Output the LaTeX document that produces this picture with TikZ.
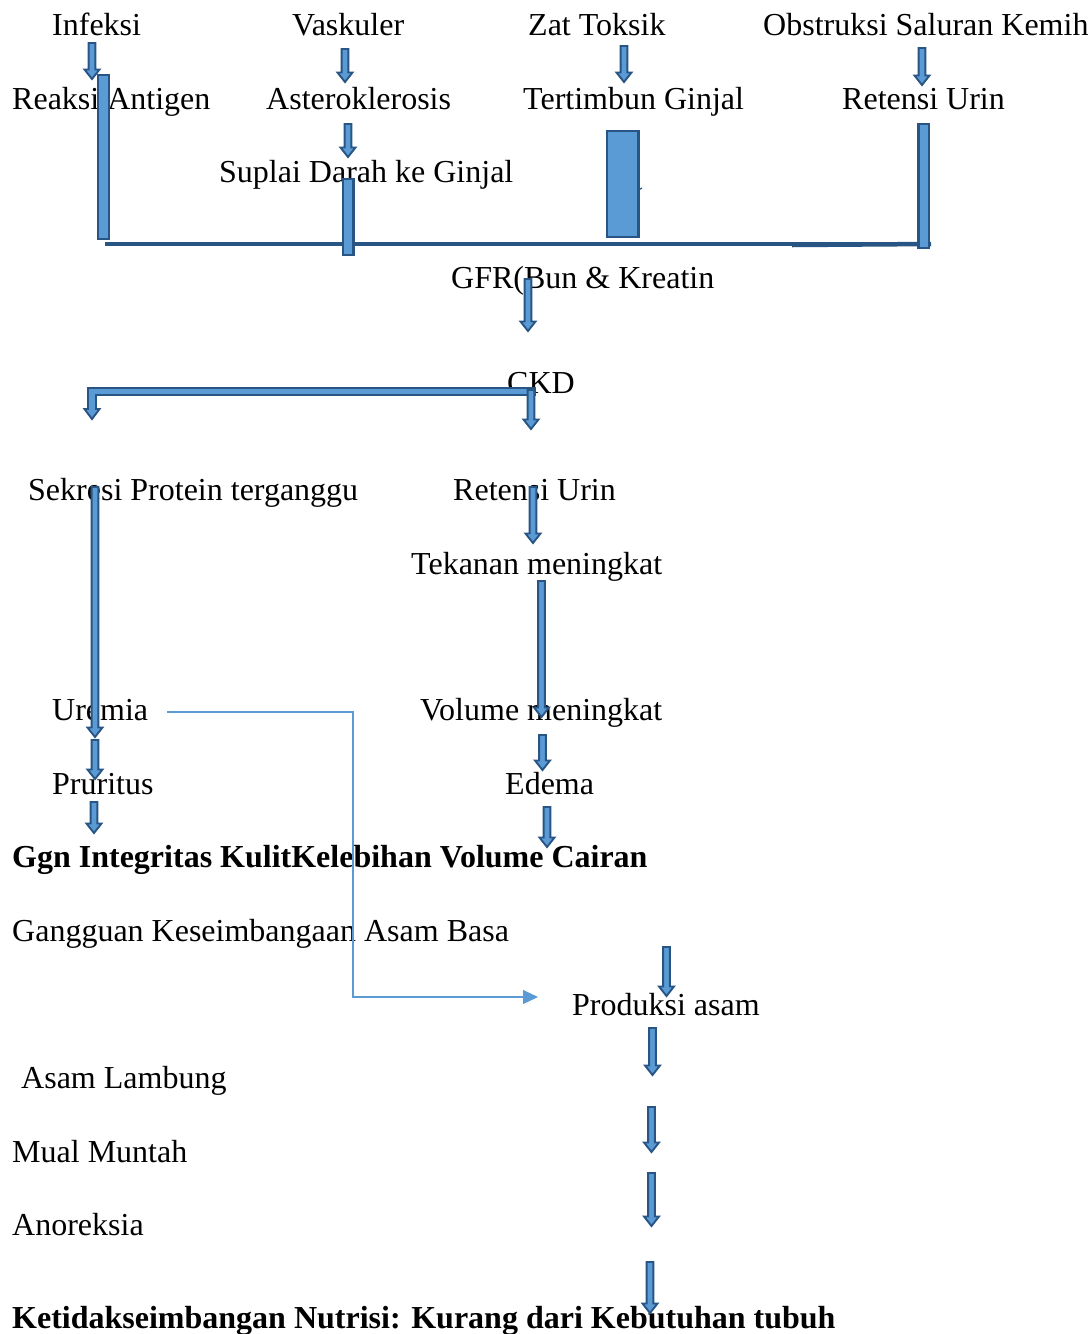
\documentclass[tikz,border=0pt]{standalone}
\usepackage{fontspec}
\setmainfont{Liberation Serif}
\usetikzlibrary{calc,arrows.meta}
\definecolor{afill}{HTML}{5B9BD5}
\definecolor{aline}{HTML}{285584}
\definecolor{hbar}{HTML}{285584}
\tikzset{
  lbl/.style={anchor=base west,inner sep=0pt,font=\fontsize{32}{36}\selectfont},
  blbl/.style={lbl,font=\fontsize{32}{36}\selectfont\bfseries},
  barrow/.style={fill=afill,draw=aline,line width=1.9pt,line join=miter},
  barbox/.style={fill=afill,draw=aline,line width=2.2pt},
  thinlink/.style={draw=afill,line width=1.1pt,-{Triangle[length=15pt,width=14pt]}},
}
\newcommand\blockarrow[2]{%
  \filldraw[barrow] let \p1=(#1), \p2=(#2) in
   (\x1-3.4pt,\y1) -- (\x1+3.4pt,\y1) -- (\x1+3.4pt,\y2+9.5pt) -- (\x1+7.5pt,\y2+9.5pt)
   -- (\x1,\y2) -- (\x1-7.5pt,\y2+9.5pt) -- (\x1-3.4pt,\y2+9.5pt) -- cycle;}
\begin{document}
\begin{tikzpicture}[x=1pt,y=-1pt]
\useasboundingbox[fill=white] (0,0) rectangle (1092,1334);
% texts
\node[lbl] (infeksi) at (52,35) {Infeksi};
\node[lbl] (vaskuler) at (292,35) {Vaskuler};
\node[lbl] (zat) at (528,35) {Zat Toksik};
\node[lbl] (obstruksi) at (763,35) {Obstruksi Saluran Kemih};
\node[lbl] (reaksi) at (12,109) {Reaksi Antigen};
\node[lbl] (astero) at (266,109) {Asteroklerosis};
\node[lbl] (tertimbun) at (523,109) {Tertimbun Ginjal};
\node[lbl] (retensiA) at (842,109) {Retensi Urin};
\node[lbl] (suplai) at (219,182) {Suplai Darah ke Ginjal};
\node[lbl] (gfr) at (451,288) {GFR(Bun \& Kreatin};
\node[lbl] (ckd) at (507,393) {CKD};
\node[lbl] (sekresi) at (28,500) {Sekresi Protein terganggu};
\node[lbl] (retensiB) at (453,500) {Retensi Urin};
\node[lbl] (tekanan) at (411,574) {Tekanan meningkat};
\node[lbl] (uremia) at (52,720) {Uremia};
\node[lbl] (volume) at (420,720) {Volume meningkat};
\node[lbl] (pruritus) at (52,794) {Pruritus};
\node[lbl] (edema) at (505,794) {Edema};
\node[blbl] (ggn) at (12,867) {Ggn Integritas KulitKelebihan Volume Cairan};
\node[lbl] (gangguan) at (12,941) {Gangguan Keseimbangaan Asam Basa};
\node[lbl] (produksi) at (572,1015) {Produksi asam};
\node[lbl] (lambung) at (21,1088) {Asam Lambung};
\node[lbl] (mual) at (12,1162) {Mual Muntah};
\node[lbl] (anoreksia) at (12,1235) {Anoreksia};
\node[blbl] (ketidak) at (12,1328) {Ketidakseimbangan Nutrisi: Kurang dari Kebutuhan tubuh};
% arrow coordinates
\coordinate (a1s) at (92,43);   \coordinate (a1e) at (92,79);
\coordinate (a2s) at (345,49);  \coordinate (a2e) at (345,82);
\coordinate (a3s) at (348,124); \coordinate (a3e) at (348,157);
\coordinate (a4s) at (624,46);  \coordinate (a4e) at (624,82);
\coordinate (a5s) at (922,48);  \coordinate (a5e) at (922,85);
\coordinate (a6s) at (528,279); \coordinate (a6e) at (528,331);
\coordinate (a7s) at (531,390); \coordinate (a7e) at (531,429);
\coordinate (a8s) at (95,487);  \coordinate (a8e) at (95,737);
\coordinate (a9s) at (95,740);  \coordinate (a9e) at (95,779);
\coordinate (a10s) at (94,802); \coordinate (a10e) at (94,833);
\coordinate (a11s) at (533,487); \coordinate (a11e) at (533,543);
\coordinate (a12s) at (541.5,581); \coordinate (a12e) at (541.5,717);
\coordinate (a13s) at (542.5,735); \coordinate (a13e) at (542.5,770);
\coordinate (a14s) at (547,807); \coordinate (a14e) at (547,847);
\coordinate (a15s) at (666.5,947); \coordinate (a15e) at (666.5,996);
\coordinate (a16s) at (652.5,1028); \coordinate (a16e) at (652.5,1075);
\coordinate (a17s) at (651.5,1107); \coordinate (a17e) at (651.5,1152);
\coordinate (a18s) at (651.5,1173); \coordinate (a18e) at (651.5,1226);
\coordinate (a19s) at (650,1262); \coordinate (a19e) at (650,1313);
% top joining bar
\coordinate (hbL) at (105,244); \coordinate (hbR) at (931,244);
\draw[hbar,line width=4pt] (hbL) -- (hbR);
\draw[hbar,line width=4.5pt] (792,245) -- (hbR);
% vertical bars
\filldraw[barbox] (98,75) rectangle (109,239);
\filldraw[barbox] (343,179) rectangle (353.5,255);
\filldraw[barbox] (607,131) rectangle (638.5,237);
\draw[aline,line width=1.2pt] (638.5,190) -- (642,188);
\filldraw[barbox] (918.5,124) rectangle (929,248);
% block arrows
\blockarrow{a1s}{a1e}
\blockarrow{a2s}{a2e}
\blockarrow{a3s}{a3e}
\blockarrow{a4s}{a4e}
\blockarrow{a5s}{a5e}
\blockarrow{a6s}{a6e}
% CKD bent arrow
\filldraw[barrow] (535,388) -- (88,388) -- (88,409) -- (84.5,409) -- (92,419)
  -- (99.5,409) -- (96,409) -- (96,395) -- (535,395) -- cycle;
\blockarrow{a7s}{a7e}
\blockarrow{a8s}{a8e}
\blockarrow{a9s}{a9e}
\blockarrow{a10s}{a10e}
\blockarrow{a11s}{a11e}
\blockarrow{a12s}{a12e}
\blockarrow{a13s}{a13e}
\blockarrow{a14s}{a14e}
\blockarrow{a15s}{a15e}
\blockarrow{a16s}{a16e}
\blockarrow{a17s}{a17e}
\blockarrow{a18s}{a18e}
\blockarrow{a19s}{a19e}
% thin connector Uremia -> Produksi asam
\coordinate (ls) at (167,712);
\coordinate (lc) at (353,997);
\coordinate (le) at (538,997);
\draw[thinlink] (ls) -| (lc) -- (le);
\end{tikzpicture}
\end{document}
